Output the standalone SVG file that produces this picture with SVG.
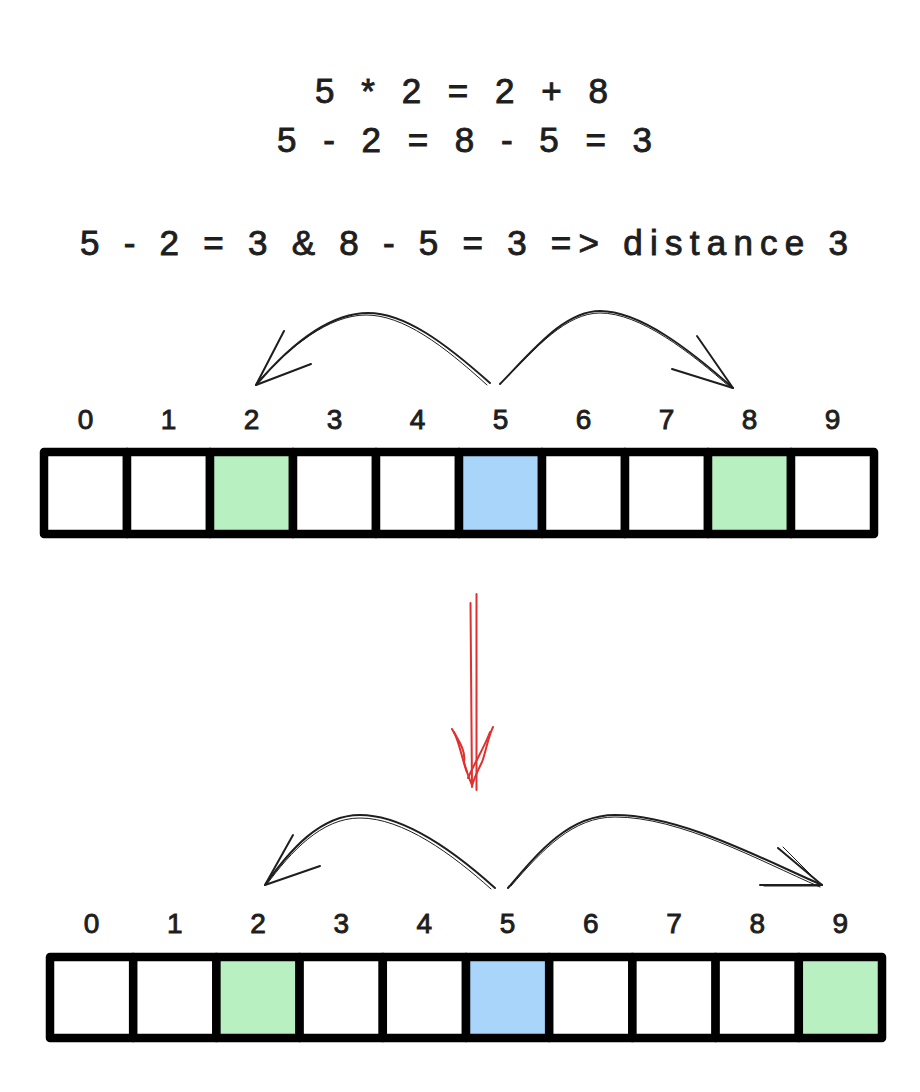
<svg xmlns="http://www.w3.org/2000/svg" width="920" height="1092" viewBox="0 0 920 1092">
<style>
.txt{font-family:"Liberation Sans","DejaVu Sans",sans-serif;fill:#1e1e1e;stroke:#1e1e1e;stroke-width:0.9}
.eq{font-size:35px}
.idx{font-size:28px;text-anchor:middle}
.cell{stroke:#000;stroke-width:8.5;stroke-linejoin:round}
.w{fill:#fff}.g{fill:#b9f0c1}.b{fill:#a9d5fb}
.arr{fill:none;stroke:#1e1e1e;stroke-width:2;stroke-linecap:round;stroke-linejoin:round}
.arr2{fill:none;stroke:#1e1e1e;stroke-width:1;stroke-linecap:round}
.red{fill:none;stroke:#e03131;stroke-width:2;stroke-linecap:round;stroke-linejoin:round}
</style>
<rect width="920" height="1092" fill="#fff"/>
<g id="equations">
<text class="txt eq" x="315" y="103" textLength="293" lengthAdjust="spacing">5 * 2 = 2 + 8</text>
<text class="txt eq" x="277" y="152" textLength="375" lengthAdjust="spacing">5 - 2 = 8 - 5 = 3</text>
<text class="txt eq" x="80" y="255" textLength="768" lengthAdjust="spacing">5 - 2 = 3 &amp; 8 - 5 = 3 =&gt; distance 3</text>
</g>
<g id="top-array">
<g id="t0"><rect class="cell w" x="44" y="452" width="83" height="82"/><text class="txt idx" x="85.5" y="429">0</text></g>
<g id="t1"><rect class="cell w" x="127" y="452" width="83" height="82"/><text class="txt idx" x="168.5" y="429">1</text></g>
<g id="t2"><rect class="cell g" x="210" y="452" width="83" height="82"/><text class="txt idx" x="251.5" y="429">2</text></g>
<g id="t3"><rect class="cell w" x="293" y="452" width="83" height="82"/><text class="txt idx" x="334.5" y="429">3</text></g>
<g id="t4"><rect class="cell w" x="376" y="452" width="83" height="82"/><text class="txt idx" x="417.5" y="429">4</text></g>
<g id="t5"><rect class="cell b" x="459" y="452" width="83" height="82"/><text class="txt idx" x="500.5" y="429">5</text></g>
<g id="t6"><rect class="cell w" x="542" y="452" width="83" height="82"/><text class="txt idx" x="583.5" y="429">6</text></g>
<g id="t7"><rect class="cell w" x="625" y="452" width="83" height="82"/><text class="txt idx" x="666.5" y="429">7</text></g>
<g id="t8"><rect class="cell g" x="708" y="452" width="83" height="82"/><text class="txt idx" x="749.5" y="429">8</text></g>
<g id="t9"><rect class="cell w" x="791" y="452" width="83" height="82"/><text class="txt idx" x="832.5" y="429">9</text></g>
</g>
<g id="bottom-array">
<g id="b0"><rect class="cell w" x="50" y="957" width="83.2" height="81"/><text class="txt idx" x="91.6" y="933">0</text></g>
<g id="b1"><rect class="cell w" x="133.2" y="957" width="83.2" height="81"/><text class="txt idx" x="174.8" y="933">1</text></g>
<g id="b2"><rect class="cell g" x="216.4" y="957" width="83.2" height="81"/><text class="txt idx" x="258" y="933">2</text></g>
<g id="b3"><rect class="cell w" x="299.6" y="957" width="83.2" height="81"/><text class="txt idx" x="341.2" y="933">3</text></g>
<g id="b4"><rect class="cell w" x="382.8" y="957" width="83.2" height="81"/><text class="txt idx" x="424.4" y="933">4</text></g>
<g id="b5"><rect class="cell b" x="466" y="957" width="83.2" height="81"/><text class="txt idx" x="507.6" y="933">5</text></g>
<g id="b6"><rect class="cell w" x="549.2" y="957" width="83.2" height="81"/><text class="txt idx" x="590.8" y="933">6</text></g>
<g id="b7"><rect class="cell w" x="632.4" y="957" width="83.2" height="81"/><text class="txt idx" x="674" y="933">7</text></g>
<g id="b8"><rect class="cell w" x="715.6" y="957" width="83.2" height="81"/><text class="txt idx" x="757.2" y="933">8</text></g>
<g id="b9"><rect class="cell g" x="798.8" y="957" width="83.2" height="81"/><text class="txt idx" x="840.4" y="933">9</text></g>
</g>
<g id="connectors">
<path class="arr" d="M490,383 C445,343 405,313 368,313 C330,313 290,345 256,385"/>
<path class="arr2" d="M487,385 C443,345 403,315 366,315 C329,315 289,347 257,383"/>
<path class="arr" d="M256,385 L284,331 M256,385 L311,364"/>
<path class="arr" d="M500,384 C535,348 565,311 600,311 C640,311 690,350 733,388"/>
<path class="arr2" d="M502,382 C537,346 567,313 600,313 C640,313 690,352 731,388"/>
<path class="arr" d="M733,388 L697,336 M733,388 L672,369"/>
<path class="arr" d="M495,888 C455,852 405,815 360,815 C320,815 290,850 265,885"/>
<path class="arr2" d="M491,889 C452,854 403,818 360,818 C321,818 291,852 267,884"/>
<path class="arr" d="M265,885 L293,835 M265,885 L320,866"/>
<path class="arr" d="M508,888 C540,850 570,815 615,815 C680,815 760,858 822,885"/>
<path class="arr2" d="M511,886 C543,849 573,817 615,817 C680,817 758,860 820,887"/>
<path class="arr" d="M822,885 L778,848 M822,885 L760,885"/>
<path class="arr2" d="M820,884 L783,847 M820,886 L764,886"/>
<path class="red" d="M476.5,594 L476.5,790"/>
<path class="red" d="M470.5,603 L472,787"/>
<path class="red" d="M452,729 C458,740 466,750 464,762 C466,770 469,778 472,785"/>
<path class="red" d="M454,732 C460,744 462,760 467,772"/>
<path class="red" d="M493,727 C487,740 486,752 482,762 C478,770 474,778 472,786"/>
<path class="red" d="M490,732 C484,748 476,760 468,778"/>
</g>
</svg>
